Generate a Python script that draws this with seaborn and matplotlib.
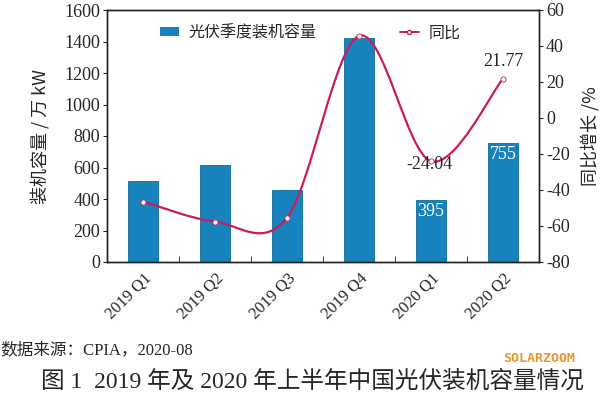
import numpy as np
import matplotlib
matplotlib.use('Agg')
import matplotlib.pyplot as plt
from matplotlib.path import Path
from matplotlib.patches import PathPatch, Patch
from matplotlib.lines import Line2D
import seaborn as sns

# Data
quarters = ['2019 Q1', '2019 Q2', '2019 Q3', '2019 Q4', '2020 Q1', '2020 Q2']
capacity = [515, 615, 455, 1420, 395, 755]        # 万 kW
yoy = [-46.4, -57.6, -55.4, 45.6, -24.04, 21.77]  # %
bar_labels = {4: '395', 5: '755'}
yoy_labels = {4: '-24.04', 5: '21.77'}

BAR = '#1783BD'
LINE = '#C81D5A'
SERIF = ['Liberation Serif', 'Noto Sans CJK SC']
CJK = ['Noto Sans CJK SC', 'DejaVu Sans']

sns.set_style('ticks')
plt.rcParams['font.family'] = SERIF
plt.rcParams['axes.unicode_minus'] = False

fig = plt.figure(figsize=(6.0, 3.93), dpi=100)
ax = fig.add_axes([107 / 600, 131 / 393, 432 / 600, 252 / 393])

sns.barplot(x=quarters, y=capacity, color=BAR, saturation=1, width=0.41,
            edgecolor='#0F6A9C', linewidth=0.6, ax=ax)
ax.set_ylim(0, 1600)
ax.set_xlim(-0.5, len(quarters) - 0.5)
ax.set_yticks(range(0, 1601, 200))
ax.tick_params(axis='y', labelsize=13, length=3, direction='out', pad=2)
ax.set_xticks(np.arange(len(quarters)))
ax.set_xticklabels(quarters, rotation=45, ha='right', rotation_mode='anchor',
                   fontsize=12)
ax.tick_params(axis='x', which='major', length=0, pad=6)
ax.set_xticks(np.arange(0.5, len(quarters) - 0.5, 1), minor=True)
ax.tick_params(axis='x', which='minor', direction='in', length=4)
ax.set_xlabel('')
ax.set_ylabel('装机容量 / 万 kW', family=CJK, fontsize=13, labelpad=10)
for s in ax.spines.values():
    s.set_linewidth(1.0)
    s.set_color('#222222')

for i, txt in bar_labels.items():
    ax.text(i, capacity[i] - 18, txt, ha='center', va='top', color='white',
            fontsize=13)

# Secondary axis: year-over-year growth
ax2 = ax.twinx()
ax2.set_ylim(-80, 60)
ax2.set_yticks(range(-80, 61, 20))
ax2.tick_params(axis='y', labelsize=13, length=3, direction='out', pad=2)
ax2.set_ylabel('同比增长 /%', family=CJK, fontsize=13, rotation=90, labelpad=8)
for s in ax2.spines.values():
    s.set_linewidth(1.0)
    s.set_color('#222222')

# smoothed curve (Catmull-Rom style bezier through the data points)
xs = np.arange(len(yoy), dtype=float)
pts = np.column_stack([xs, yoy])
verts = [pts[0]]
codes = [Path.MOVETO]
n = len(pts)
for i in range(n - 1):
    p0 = pts[i - 1] if i > 0 else pts[i]
    p1, p2 = pts[i], pts[i + 1]
    p3 = pts[i + 2] if i + 2 < n else pts[i + 1]
    verts += [p1 + (p2 - p0) / 6, p2 - (p3 - p1) / 6, p2]
    codes += [Path.CURVE4] * 3
ax2.add_patch(PathPatch(Path(verts, codes), facecolor='none', edgecolor=LINE,
                        linewidth=1.6, zorder=3))
sns.scatterplot(x=xs, y=yoy, ax=ax2, s=14, color='white', edgecolor=LINE,
                linewidth=0.6, zorder=4, legend=False)

ax2.text(3.98, yoy[4] - 2, yoy_labels[4], ha='center', va='center', fontsize=13)
ax2.text(5, yoy[5] + 5, yoy_labels[5], ha='center', va='bottom', fontsize=13)

handles = [Patch(facecolor=BAR, edgecolor='none'),
           Line2D([], [], color=LINE, lw=1.4, marker='o', markersize=3,
                  markerfacecolor='white', markeredgecolor=LINE)]
ax.legend(handles, ['光伏季度装机容量', '同比'], loc='upper center',
          bbox_to_anchor=(0.47, 1.0), ncol=2, frameon=False,
          prop={'family': CJK, 'size': 11.5}, handlelength=1.2,
          handleheight=0.5, columnspacing=5.2, handletextpad=0.6)

fig.text(0.0, 393 - 350, '数据来源：CPIA，2020-08', transform=None,
         fontsize=12, va='center', ha='left', family=SERIF)
fig.text(312 / 600, (393 - 381) / 393, '图 1  2019 年及 2020 年上半年中国光伏装机容量情况',
         fontsize=17, ha='center', va='center', family=SERIF)
fig.text(503 / 600, (393 - 358) / 393, 'SOLARZOOM', fontsize=9.5,
         color='#E8952E', family='DejaVu Sans Mono', weight='bold',
         ha='left', va='center')

fig.savefig('out.png', dpi=100)
